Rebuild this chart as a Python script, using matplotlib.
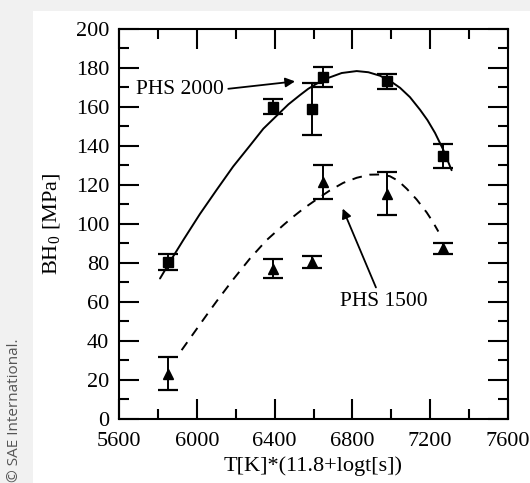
import matplotlib.pyplot as plt
from matplotlib.patches import Rectangle
from matplotlib.ticker import MultipleLocator

phs2000_x = [5850, 6390, 6590, 6650, 6980, 7265]
phs2000_y = [80.4, 160.2, 159.0, 175.3, 173.1, 134.6]
phs2000_err = [4.0, 3.6, 13.2, 5.1, 3.9, 6.2]

phs1500_x = [5852, 6390, 6590, 6648, 6980, 7265]
phs1500_y = [23.0, 77.0, 80.4, 121.5, 115.5, 87.3]
phs1500_err = [8.4, 4.9, 2.9, 8.6, 11.0, 2.9]

# trend curves as drawn in the figure (traced)
fit2000_x = [5811, 5871, 5931, 6016, 6102, 6187, 6273, 6342, 6411, 6471, 6531, 6573, 6616,
             6668, 6745, 6822, 6882, 6942, 6993, 7045, 7096, 7148, 7186, 7225, 7267, 7310]
fit2000_y = [71.9, 82.0, 91.7, 105.0, 117.4, 129.4, 140.1, 148.8, 155.5, 161.3, 166.1, 169.3, 171.9,
             174.6, 177.4, 178.4, 177.8, 176.0, 173.4, 169.8, 165.0, 158.5, 153.2, 146.6, 138.0, 127.5]

fit1500_x = [5922, 5969, 6016, 6059, 6102, 6187, 6273, 6359, 6445, 6488, 6531, 6573, 6616,
             6684, 6753, 6822, 6890, 6945, 6993, 7036, 7079, 7130, 7182, 7212, 7242]
fit1500_y = [35.1, 41.7, 48.3, 54.3, 60.2, 71.4, 82.1, 91.6, 99.3, 103.0, 106.4, 109.5, 112.5,
             117.1, 121.0, 123.6, 125.2, 125.3, 124.4, 122.0, 118.0, 112.5, 105.8, 101.2, 96.0]

x_ticks = [5600, 6000, 6400, 6800, 7200, 7600]
y_ticks = [0, 20, 40, 60, 80, 100, 120, 140, 160, 180, 200]

plt.rcParams["font.family"] = ["Liberation Serif", "DejaVu Serif"]
plt.rcParams["mathtext.fontset"] = "custom"
plt.rcParams["mathtext.rm"] = "Liberation Serif"

fig = plt.figure(figsize=(5.30, 4.83), dpi=100)
fig.patch.set_facecolor("#f1f1f1")
fig.patches.append(Rectangle((33 / 530, 0), 1, 1 - 11 / 483, transform=fig.transFigure,
                             facecolor="white", edgecolor="none", zorder=-5))

ax = fig.add_axes([119 / 530, 64.5 / 483, 389 / 530, 389.5 / 483])
ax.set_facecolor("white")

ax.plot(fit2000_x, fit2000_y, color="black", lw=1.4, solid_capstyle="round", solid_joinstyle="round")
ax.plot(fit1500_x, fit1500_y, color="black", lw=1.4, linestyle=(0, (5, 4)))

ax.errorbar(phs2000_x, phs2000_y, yerr=phs2000_err, fmt="s", color="black",
            markersize=6.5, elinewidth=1.4, capsize=7.5, capthick=1.6, zorder=3)
ax.errorbar(phs1500_x, phs1500_y, yerr=phs1500_err, fmt="^", color="black",
            markersize=7, elinewidth=1.4, capsize=7.5, capthick=1.6, zorder=3)

arrow = dict(arrowstyle="-|>", color="black", lw=1.3, mutation_scale=14, shrinkA=0, shrinkB=0)
ax.annotate("", xy=(6505, 173.1), xytext=(6162, 169.3), arrowprops=arrow)
ax.text(6140, 168.7, "PHS 2000", ha="right", va="center", fontsize=15.5)
ax.annotate("", xy=(6750, 107.8), xytext=(6921, 67.3), arrowprops=arrow)
ax.text(6959, 59.9, "PHS 1500", ha="center", va="center", fontsize=15.5)

ax.set_xlim(5600, 7600)
ax.set_ylim(0, 200)
ax.set_xticks(x_ticks)
ax.set_yticks(y_ticks)
ax.xaxis.set_minor_locator(MultipleLocator(200))
ax.yaxis.set_minor_locator(MultipleLocator(10))
ax.tick_params(which="both", direction="in", top=True, right=True, width=1.5, labelsize=16)
ax.tick_params(which="major", length=14.5)
ax.tick_params(which="minor", length=7.5)
ax.tick_params(axis="x", which="major", pad=9.5)
ax.tick_params(axis="y", which="major", pad=7)
for side in ax.spines.values():
    side.set_linewidth(1.5)

ax.set_xlabel("T[K]*(11.8+logt[s])", fontsize=16, labelpad=4)
ax.set_ylabel("BH$_0$ [MPa]", fontsize=16, labelpad=9)

fig.text(15 / 530, 1 - 410 / 483, "\u00a9 SAE International.", rotation=90, ha="center",
         va="center", fontsize=11, color="#555555", family=["Open Sans", "DejaVu Sans"])

fig.savefig("out.png", dpi=100, facecolor=fig.get_facecolor())
